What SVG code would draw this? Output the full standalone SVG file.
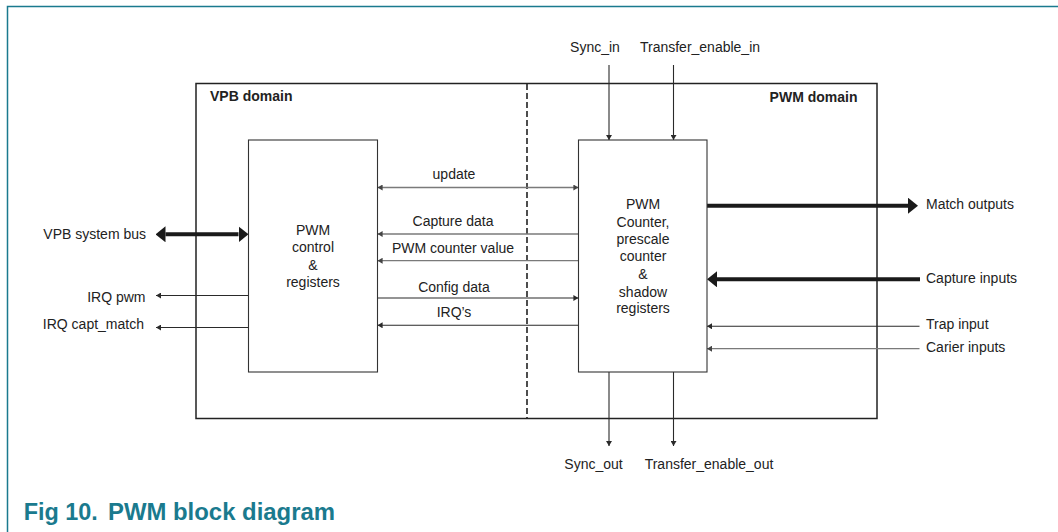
<svg xmlns="http://www.w3.org/2000/svg" width="1058" height="532" viewBox="0 0 1058 532">
<style>
text{font-family:"Liberation Sans",Arial,sans-serif;font-size:14px;fill:#222}
.b{font-weight:bold}
.m{text-anchor:middle}
.e{text-anchor:end}
.title{font-size:23.4px;font-weight:bold;fill:#1a7a8e}
.box{fill:#fff;stroke:#333;stroke-width:1.1}
.dk{stroke:#2a2a2a;stroke-width:1.1;fill:none}
.gr{stroke:#7a7a7a;stroke-width:1.3;fill:none}
.thick{stroke:#1a1a1a;stroke-width:4;fill:none}
</style>
<defs>
<marker id="ad" viewBox="0 0 5 6" markerUnits="userSpaceOnUse" markerWidth="5" markerHeight="6" refX="5" refY="3" orient="auto-start-reverse"><path d="M0,0 L5,3 L0,6 z" fill="#2a2a2a"/></marker>
<marker id="ag" viewBox="0 0 5 6" markerUnits="userSpaceOnUse" markerWidth="5" markerHeight="6" refX="5" refY="3" orient="auto-start-reverse"><path d="M0,0 L5,3 L0,6 z" fill="#444"/></marker>
<marker id="ab" viewBox="0 0 10 16" markerUnits="userSpaceOnUse" markerWidth="10" markerHeight="16" refX="0" refY="8" orient="auto-start-reverse"><path d="M0,0 L10,8 L0,16 z" fill="#1a1a1a"/></marker>
</defs>
<rect width="1058" height="532" fill="#fff"/>
<g id="frame">
<path d="M7.5,532 V6.5 H1058" fill="none" stroke="#1a7a8e" stroke-width="1.5"/>
</g>
<g id="domains">
<rect x="196" y="83.5" width="681" height="335" fill="none" stroke="#222" stroke-width="1.5"/>
<line x1="527" y1="84" x2="527" y2="418" stroke="#222" stroke-width="1.6" stroke-dasharray="6,3"/>
<text class="b" x="210" y="101">VPB domain</text>
<text class="b e" x="857.5" y="102">PWM domain</text>
</g>
<g id="connectors">
<line class="thick" x1="165.5" y1="234.3" x2="238.5" y2="234.3" marker-start="url(#ab)" marker-end="url(#ab)"/>
<line class="dk" x1="248.5" y1="295.5" x2="156" y2="295.5" marker-end="url(#ad)"/>
<line class="dk" x1="248.5" y1="327.5" x2="156" y2="327.5" marker-end="url(#ad)"/>
<line class="gr" x1="377.6" y1="187.5" x2="578.4" y2="187.5" marker-start="url(#ag)" marker-end="url(#ag)"/>
<line class="gr" x1="578.4" y1="234" x2="377.6" y2="234" marker-end="url(#ag)"/>
<line class="gr" x1="578.4" y1="260.7" x2="377.6" y2="260.7" marker-end="url(#ag)"/>
<line class="dk" x1="377.6" y1="298" x2="578.4" y2="298" marker-end="url(#ad)"/>
<line class="dk" x1="578.4" y1="325.3" x2="377.6" y2="325.3" marker-end="url(#ad)"/>
<line class="dk" x1="609" y1="65" x2="609" y2="140" marker-end="url(#ad)"/>
<line class="dk" x1="673.5" y1="65" x2="673.5" y2="140" marker-end="url(#ad)"/>
<line class="thick" x1="707" y1="205.7" x2="908" y2="205.7" marker-end="url(#ab)"/>
<line class="thick" x1="920" y1="279.3" x2="717" y2="279.3" marker-end="url(#ab)"/>
<line class="dk" x1="919.5" y1="326.3" x2="707" y2="326.3" marker-end="url(#ad)"/>
<line class="gr" x1="919.5" y1="348.7" x2="707" y2="348.7" marker-end="url(#ag)"/>
<line class="dk" x1="609" y1="372" x2="609" y2="446" marker-end="url(#ad)"/>
<line class="dk" x1="673.5" y1="372" x2="673.5" y2="446" marker-end="url(#ad)"/>
</g>
<g id="pwm-control">
<rect class="box" x="248.5" y="140" width="129" height="232"/>
<text class="m" x="313" y="235">PWM</text>
<text class="m" x="313" y="252.3">control</text>
<text class="m" x="313" y="269.6">&amp;</text>
<text class="m" x="313" y="287">registers</text>
</g>
<g id="pwm-counter">
<rect class="box" x="578.5" y="140" width="128.5" height="232"/>
<text class="m" x="643" y="209.3">PWM</text>
<text class="m" x="643" y="226.7">Counter,</text>
<text class="m" x="643" y="244">prescale</text>
<text class="m" x="643" y="261.3">counter</text>
<text class="m" x="643" y="279">&amp;</text>
<text class="m" x="643" y="296.5">shadow</text>
<text class="m" x="643" y="313">registers</text>
</g>
<g id="labels">
<text class="e" x="146" y="238.5">VPB system bus</text>
<text class="e" x="145.5" y="301.5">IRQ pwm</text>
<text class="e" x="144" y="329">IRQ capt_match</text>
<text class="m" x="454" y="179">update</text>
<text class="m" x="453" y="225.7">Capture data</text>
<text class="m" x="453" y="253.3">PWM counter value</text>
<text class="m" x="454" y="292">Config data</text>
<text class="m" x="454" y="317">IRQ’s</text>
<text class="m" x="595" y="52.3">Sync_in</text>
<text class="m" x="700" y="52.3">Transfer_enable_in</text>
<text x="926" y="209">Match outputs</text>
<text x="926" y="282.7">Capture inputs</text>
<text x="926" y="328.7">Trap input</text>
<text x="926" y="352">Carier inputs</text>
<text class="m" x="593.5" y="469">Sync_out</text>
<text class="m" x="709" y="469">Transfer_enable_out</text>
</g>
<g id="caption">
<text class="title" x="23.7" y="520.3">Fig 10.<tspan x="108" style="font-size:23.9px">PWM block diagram</tspan></text>
</g>
</svg>
